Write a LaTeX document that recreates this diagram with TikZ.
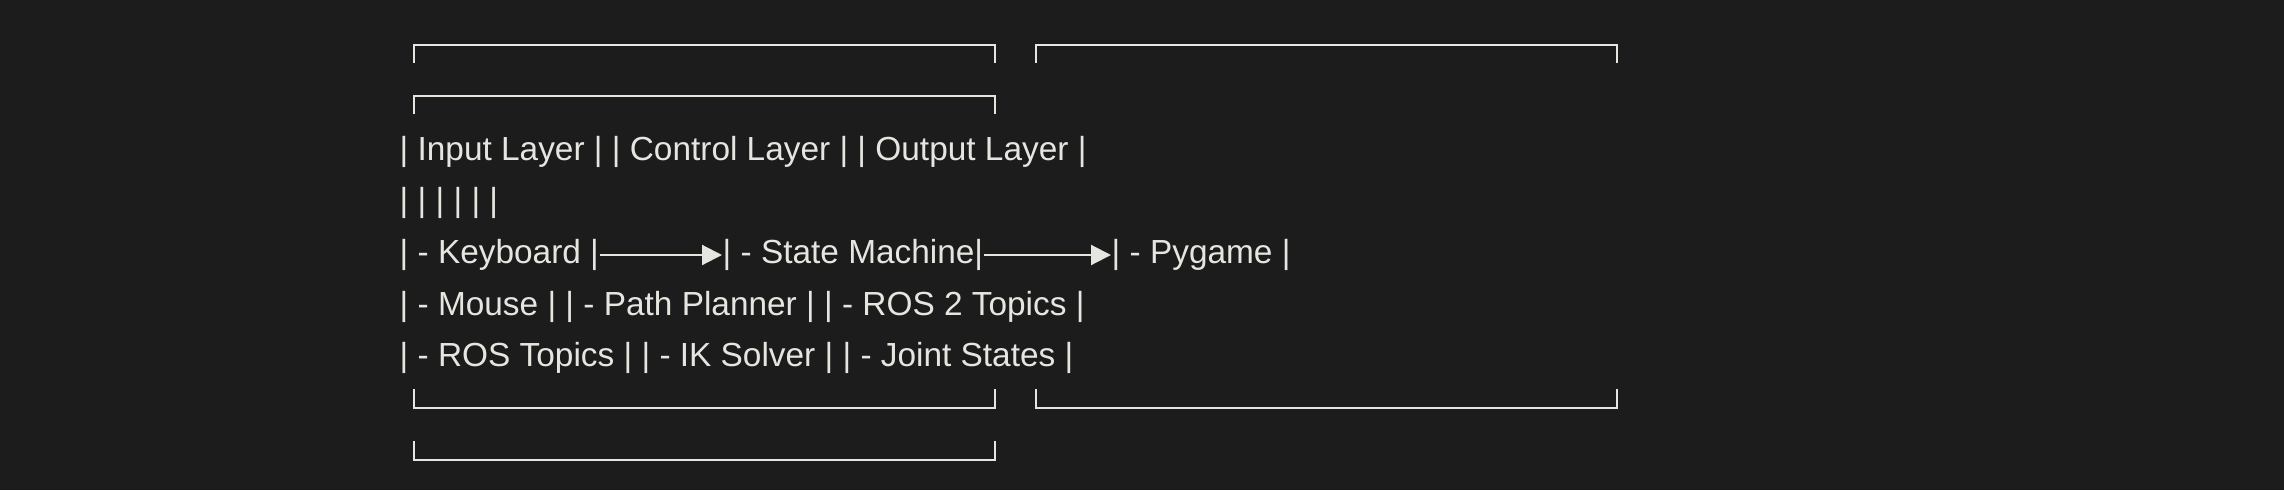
\documentclass[tikz,border=0pt]{standalone}
\usepackage{fontspec}
\setmainfont{Liberation Sans}
\usetikzlibrary{arrows.meta}
\definecolor{bg}{HTML}{1B1C1B}
\definecolor{ink}{HTML}{E6E6E1}
\begin{document}
\begin{tikzpicture}[x=0.1mm,y=-0.1mm,line join=miter,font=\fontsize{9.5}{11}\selectfont,
	row/.style={anchor=west,inner sep=0pt,text=ink},
	link/.style={-{Triangle[length=2mm,width=2mm]},draw=ink,fill=ink,line width=0.6pt},
	frame/.style={draw=ink,line width=0.7pt}]
	\fill[bg] (0,0) rectangle (2284,490);
	\useasboundingbox (0,0) rectangle (2284,490);
	\foreach \x/\y/\d in {414/45/18,1036/45/18,414/96/18,414/408/-19,1036/408/-19,414/460/-19}
		\draw[frame] (\x,{\y+\d})--(\x,\y)--({\x+581},\y)--({\x+581},{\y+\d});
	\node[row] (head) at (399,152) {| Input Layer | | Control Layer | | Output Layer |};
	\node[row] (bars) at (399,203) {| | | | | |};
	\node[row] (kb) at (399,255) {| - Keyboard |};
	\node[row] (sm) at (722,255) {| - State Machine|};
	\node[row] (pg) at (1111,255) {| - Pygame |};
	\draw[link] (kb.east)--(sm.west);
	\draw[link] (sm.east)--(pg.west);
	\node[row] (mid) at (399,307) {| - Mouse | | - Path Planner | | - ROS 2 Topics |};
	\node[row] (low) at (399,358) {| - ROS Topics | | - IK Solver | | - Joint States |};
\end{tikzpicture}
\end{document}
